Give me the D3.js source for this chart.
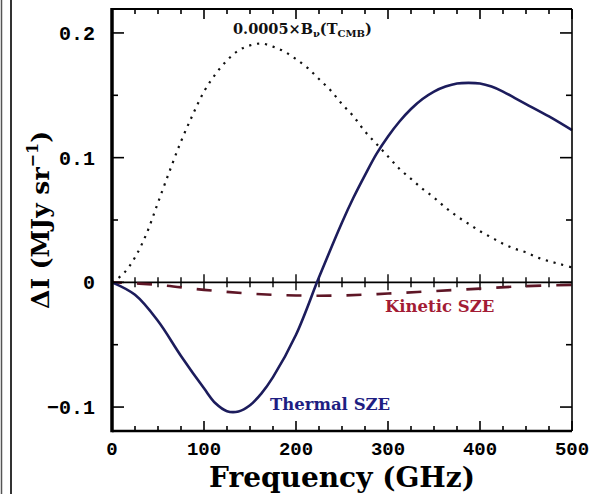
<!DOCTYPE html>
<html><head><meta charset="utf-8">
<script src="https://cdn.jsdelivr.net/npm/d3@7"></script>
<style>
body{margin:0;background:#fff}
svg{display:block}
</style></head><body>
<svg width="595" height="494"></svg>
<script>
// frequencies in GHz, intensities in MJy/sr
var thermalFreq=[0,25,50,75,100,112.5,125,137.5,150,162.5,175,200,225,250,262.5,275,287.5,300,312.5,325,337.5,350,362.5,375,387.5,400,412.5,425,437.5,450,475,500];
var thermalSZE=[0,-0.010,-0.031,-0.059,-0.085,-0.097,-0.1033,-0.1035,-0.0985,-0.089,-0.076,-0.042,0.004,0.048,0.068,0.086,0.103,0.117,0.129,0.139,0.147,0.153,0.157,0.1595,0.160,0.1595,0.157,0.153,0.148,0.143,0.133,0.122];

var kineticFreq=[0,50,100,150,200,250,300,350,400,450,500];
var kineticSZE=[0,-0.002,-0.006,-0.009,-0.0105,-0.0105,-0.009,-0.007,-0.005,-0.003,-0.002];

var cmbFreq=[0,12.5,25,37.5,50,62.5,75,87.5,100,112.5,125,137.5,150,162.5,175,187.5,200,212.5,225,237.5,250,262.5,275,287.5,300,312.5,325,337.5,350,362.5,375,387.5,400,412.5,425,437.5,450,462.5,475,487.5,500];
var cmbScaled=[0,0.007,0.020,0.039,0.064,0.089,0.113,0.134,0.153,0.167,0.178,0.186,0.190,0.1915,0.189,0.185,0.179,0.172,0.163,0.154,0.143,0.133,0.121,0.111,0.101,0.091,0.083,0.075,0.068,0.060,0.053,0.047,0.041,0.036,0.031,0.027,0.024,0.020,0.017,0.0145,0.012];

var xTickLabels=[0,100,200,300,400,500];
var yTickLabels=[-0.1,0,0.1,0.2];

var svg=d3.select('svg');
var margin={top:9,left:112};
var plotWidth=460, plotHeight=422;

// page border lines at the left edge
svg.append('line').attr('x1',1.5).attr('x2',1.5).attr('y1',0).attr('y2',494)
  .attr('stroke','#555').attr('stroke-width',1.5);
svg.append('line').attr('x1',11).attr('x2',11).attr('y1',0).attr('y2',494)
  .attr('stroke','#333').attr('stroke-width',2);

var x=d3.scaleLinear().domain([0,500]).range([0,plotWidth]);
var y=d3.scaleLinear().domain([-0.1192,0.2192]).range([plotHeight,0]);

var plot=svg.append('g').attr('transform','translate('+margin.left+','+margin.top+')');

var minorX=d3.range(0,501,25), minorY=d3.range(-0.1,0.2001,0.05);

// zero line with crossing ticks
plot.append('line').attr('x1',0).attr('x2',plotWidth).attr('y1',y(0)).attr('y2',y(0))
  .attr('stroke','#000').attr('stroke-width',1.6);
plot.selectAll('line.zt').data(minorX.filter(function(d){return d>0&&d<500;})).enter()
  .append('line').attr('class','zt')
  .attr('x1',function(d){return x(d);}).attr('x2',function(d){return x(d);})
  .attr('y1',function(d){return y(0)-(d%100==0?8:5);})
  .attr('y2',function(d){return y(0)+(d%100==0?8:5);})
  .attr('stroke','#000').attr('stroke-width',1.4);

function makeLine(xs){
  return d3.line()
    .x(function(d,i){return x(xs[i]);})
    .y(function(d){return y(d);})
    .curve(d3.curveCatmullRom.alpha(0.5));
}

plot.append('path').datum(kineticSZE)
  .attr('d',makeLine(kineticFreq))
  .attr('fill','none').attr('stroke','#5e1626').attr('stroke-width',2.6)
  .attr('stroke-dasharray','15,15').attr('stroke-dashoffset',5);

plot.append('path').datum(cmbScaled)
  .attr('d',makeLine(cmbFreq))
  .attr('fill','none').attr('stroke','#111').attr('stroke-width',2.2)
  .attr('stroke-dasharray','2.2,5.8');

plot.append('path').datum(thermalSZE)
  .attr('d',makeLine(thermalFreq))
  .attr('fill','none').attr('stroke','#1c1c5c').attr('stroke-width',2.6);

// ticks on all four sides, pointing inward
function ticksX(ypos,dir){
  plot.selectAll(null).data(minorX).enter().append('line')
    .attr('x1',function(d){return x(d);}).attr('x2',function(d){return x(d);})
    .attr('y1',ypos).attr('y2',function(d){return ypos+dir*(d%100==0?10:5);})
    .attr('stroke','#000').attr('stroke-width',1.6);
}
function ticksY(xpos,dir){
  plot.selectAll(null).data(minorY).enter().append('line')
    .attr('y1',function(d){return y(d);}).attr('y2',function(d){return y(d);})
    .attr('x1',xpos).attr('x2',function(d){return xpos+dir*(Math.abs(Math.round(d*100))%10==0?12:6);})
    .attr('stroke','#000').attr('stroke-width',1.6);
}
ticksX(0,1); ticksX(plotHeight,-1);
ticksY(0,1); ticksY(plotWidth,-1);

// frame
plot.append('line').attr('x1',0).attr('x2',plotWidth).attr('y1',0).attr('y2',0).attr('stroke','#000').attr('stroke-width',2.2);
plot.append('line').attr('x1',0).attr('x2',plotWidth).attr('y1',plotHeight).attr('y2',plotHeight).attr('stroke','#000').attr('stroke-width',2.6);
plot.append('line').attr('x1',plotWidth).attr('x2',plotWidth).attr('y1',0).attr('y2',plotHeight).attr('stroke','#000').attr('stroke-width',1.6);
plot.append('line').attr('x1',0).attr('x2',0).attr('y1',-1).attr('y2',plotHeight+1.3).attr('stroke','#000').attr('stroke-width',3.5);

// tick labels
plot.selectAll('text.xl').data(xTickLabels).enter().append('text').attr('class','xl')
  .attr('x',function(d){return x(d);}).attr('y',plotHeight+24)
  .attr('text-anchor','middle')
  .style('font-family','Liberation Mono').style('font-weight','bold').style('font-size','19px')
  .text(function(d){return d;});
plot.selectAll('text.yl').data(yTickLabels).enter().append('text').attr('class','yl')
  .attr('x',-17).attr('y',function(d){return y(d);}).attr('dy','0.35em')
  .attr('text-anchor','end')
  .style('font-family','Liberation Mono').style('font-weight','bold').style('font-size','20px')
  .text(function(d){return d==0?'0':(d<0?'\u2212':'')+Math.abs(d);});

// axis titles
svg.append('text').attr('x',margin.left+plotWidth/2).attr('y',487)
  .attr('text-anchor','middle')
  .style('font-family','DejaVu Serif').style('font-weight','bold').style('font-size','28px')
  .text('Frequency (GHz)');
var yt=svg.append('text').attr('transform','translate(49,'+(margin.top+plotHeight/2)+')rotate(-90)')
  .attr('text-anchor','middle')
  .style('font-family','DejaVu Serif').style('font-weight','bold').style('font-size','25px');
yt.append('tspan').text('\u0394I (MJy sr');
yt.append('tspan').attr('dy',-11).style('font-size','16px').text('\u22121');
yt.append('tspan').attr('dy',11).text(')');

// curve labels
var bl=svg.append('text').attr('x',233).attr('y',34)
  .style('font-family','DejaVu Serif').style('font-weight','bold').style('font-size','14.5px').attr('fill','#111');
bl.append('tspan').text('0.0005\u00d7B');
bl.append('tspan').attr('dy',3).style('font-size','10px').text('\u03bd');
bl.append('tspan').attr('dy',-3).text('(T');
bl.append('tspan').attr('dy',3).style('font-size','10px').text('CMB');
bl.append('tspan').attr('dy',-3).text(')');

svg.append('text').attr('x',385).attr('y',312)
  .style('font-family','DejaVu Serif').style('font-weight','bold').style('font-size','16.5px')
  .attr('fill','#a31c35').text('Kinetic SZE');
svg.append('text').attr('x',270).attr('y',410)
  .style('font-family','DejaVu Serif').style('font-weight','bold').style('font-size','16.5px')
  .attr('fill','#1e1e82').text('Thermal SZE');
</script>
</body></html>
